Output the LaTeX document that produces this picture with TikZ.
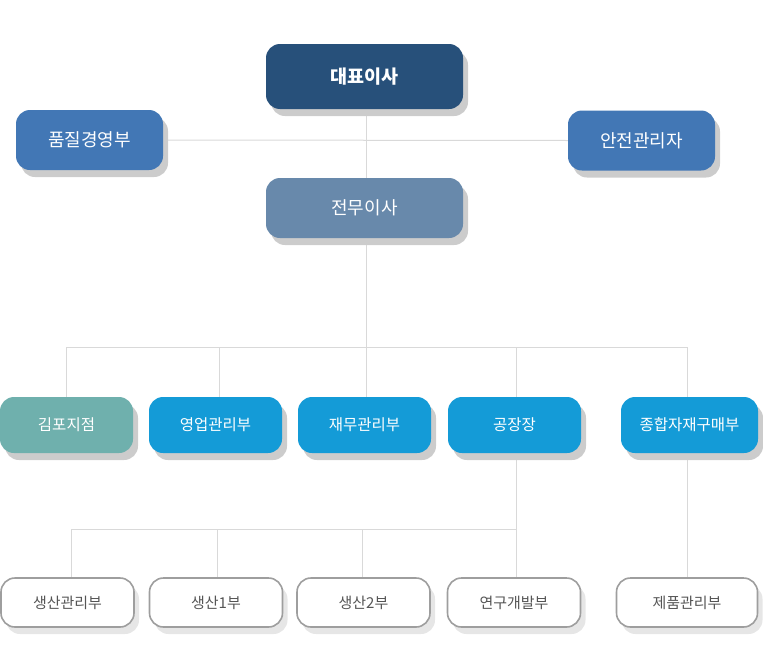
\documentclass[tikz,border=0pt]{standalone}
\usepackage{fontspec}
\setmainfont{Noto Sans CJK KR}
\usetikzlibrary{positioning, shadows, backgrounds}
\definecolor{ceoblue}{HTML}{27507A}
\definecolor{staffblue}{HTML}{4277B5}
\definecolor{vpblue}{HTML}{6889AB}
\definecolor{deptblue}{HTML}{149BD7}
\definecolor{branchteal}{HTML}{6FB0AD}
\definecolor{linegray}{HTML}{D9D9D9}
\definecolor{shadowgray}{HTML}{CCCCCC}
\definecolor{lightshadow}{HTML}{E6E6E6}
\definecolor{teamborder}{HTML}{9E9E9E}
\definecolor{teamtext}{HTML}{555555}
\tikzset{chief/.style={rectangle,rounded corners=14pt,fill=ceoblue,text=white,minimum width=197pt,minimum height=65pt,
           font=\bfseries\fontsize{18.5}{22}\selectfont,drop shadow={shadow xshift=5pt,shadow yshift=-7pt,fill=shadowgray,opacity=1}},
         staff/.style={rectangle,rounded corners=14pt,fill=staffblue,text=white,minimum width=147pt,minimum height=60pt,
           font=\fontsize{18}{21}\selectfont,drop shadow={shadow xshift=5pt,shadow yshift=-7pt,fill=shadowgray,opacity=1}},
         dept/.style={rectangle,rounded corners=14pt,fill=deptblue,text=white,minimum width=133pt,minimum height=56pt,
           font=\fontsize{15.5}{18}\selectfont,drop shadow={shadow xshift=5pt,shadow yshift=-7pt,fill=shadowgray,opacity=1}},
         team/.style={rectangle,rounded corners=14pt,draw=teamborder,line width=1.6pt,fill=white,text=teamtext,minimum width=133pt,minimum height=49pt,
           font=\fontsize{15}{18}\selectfont,drop shadow={shadow xshift=5pt,shadow yshift=-7pt,fill=lightshadow,draw=none,opacity=1}},
         link/.style={draw=linegray,line width=1pt}}
\begin{document}
\begin{tikzpicture}[x=1pt,y=-1pt]
    \useasboundingbox (0,0) rectangle (763,664);
    % top of the chart
    \node (ceo) [chief] at (364.5,76.5) {대표이사};
    \node (quality) [staff] at (89.5,140) {품질경영부};
    \node (safety) [staff] at (641.5,140.5) {안전관리자};
    \node (vp) [chief, fill=vpblue, font=\fontsize{18}{21}\selectfont, minimum height=60pt] at (364.5,208) {전무이사};
    % departments
    \node (gimpo) [dept, fill=branchteal] at (66.5,425) {김포지점};
    \node (sales) [dept] at (215.5,425) {영업관리부};
    \node (finance) [dept] at (364.5,425) {재무관리부};
    \node (factory) [dept] at (514.5,425) {공장장};
    \node (purchase) [dept, minimum width=137pt] at (689.5,425) {종합자재구매부};
    % teams
    \node (prodmgmt) [team] at (67.5,602.5) {생산관리부};
    \node (prodone) [team] at (216,602.5) {생산1부};
    \node (prodtwo) [team] at (363.5,602.5) {생산2부};
    \node (rnd) [team] at (514,602.5) {연구개발부};
    \node (product) [team, minimum width=141pt] at (687,602.5) {제품관리부};
    % bus points
    \coordinate (busgimpo) at (66,347);
    \coordinate (bussales) at (219,347);
    \coordinate (busfinance) at (366,347);
    \coordinate (busfactory) at (516,347);
    \coordinate (buspurchase) at (687,347);
    \coordinate (busprodmgmt) at (71,529);
    \coordinate (busprodone) at (217,529);
    \coordinate (busprodtwo) at (362,529);
    \coordinate (busrnd) at (516,529);
    \begin{scope}[on background layer]
      \draw[link] (quality.east) -- (safety.west);
      \draw[link] (ceo.south -| busfinance) -- (vp.north -| busfinance);
      \draw[link] (vp.south -| busfinance) -- (busfinance);
      \draw[link] (busgimpo) -- (buspurchase);
      \foreach \dep/\bus in {gimpo/busgimpo,sales/bussales,finance/busfinance,factory/busfactory,purchase/buspurchase}
        \draw[link] (\bus) -- (\bus |- \dep.north);
      \draw[link] (factory.south -| busrnd) -- (busrnd |- rnd.north);
      \draw[link] (busprodmgmt) -- (busrnd);
      \foreach \tm/\bus in {prodmgmt/busprodmgmt,prodone/busprodone,prodtwo/busprodtwo}
        \draw[link] (\bus) -- (\bus |- \tm.north);
      \draw[link] (purchase.south -| buspurchase) -- (buspurchase |- product.north);
    \end{scope}
  \end{tikzpicture}
\end{document}
